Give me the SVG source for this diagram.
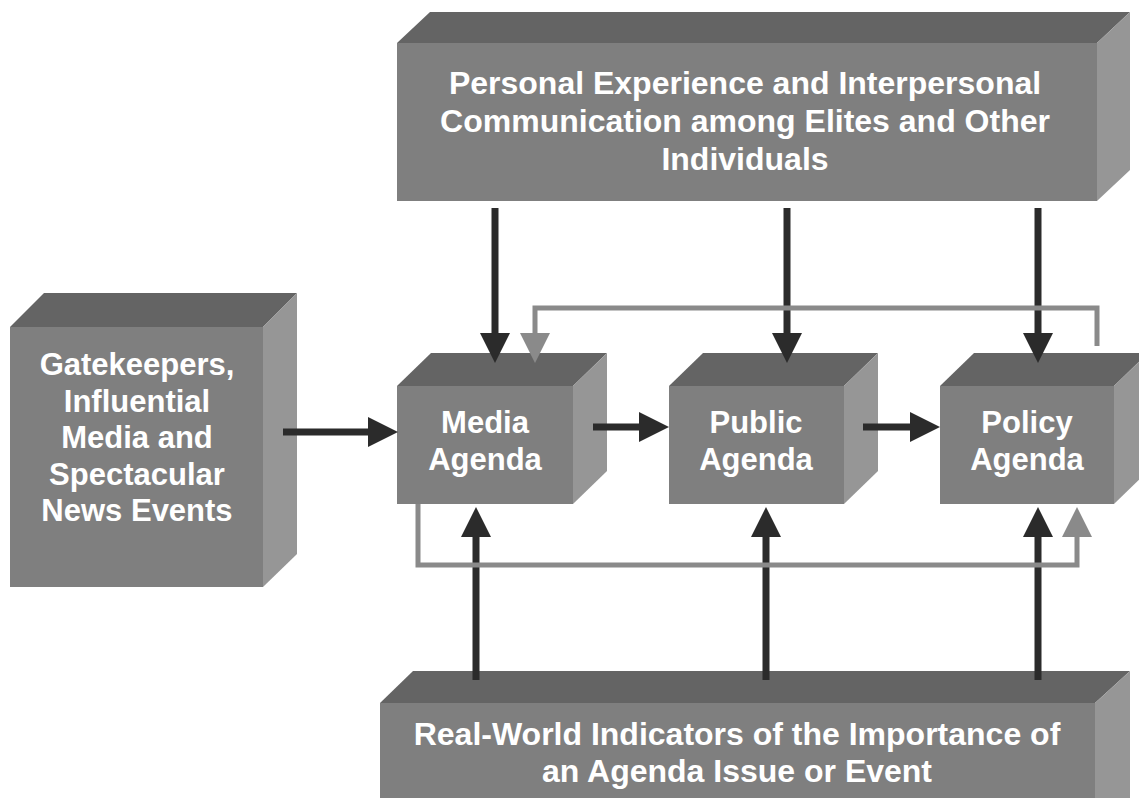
<svg xmlns="http://www.w3.org/2000/svg" width="1139" height="798" viewBox="0 0 1139 798">
<defs>
<style>
.front{fill:#7f7f7f}
.top{fill:#646464}
.side{fill:#969696}
.t{font-family:"Liberation Sans",Arial,Helvetica,sans-serif;font-weight:bold;fill:#ffffff;text-anchor:middle}
.dk{stroke:#2b2b2b;stroke-width:7;fill:none}
.gr{stroke:#8a8a8a;stroke-width:5;fill:none}
</style>
<marker id="hd" markerUnits="userSpaceOnUse" markerWidth="30" markerHeight="30" viewBox="0 0 30 30" refX="0" refY="15" orient="auto"><path d="M0,0 L30,15 L0,30 Z" fill="#2b2b2b"/></marker>
<marker id="hg" markerUnits="userSpaceOnUse" markerWidth="30" markerHeight="30" viewBox="0 0 30 30" refX="0" refY="15" orient="auto"><path d="M0,0 L30,15 L0,30 Z" fill="#8a8a8a"/></marker>
</defs>
<rect width="1139" height="798" fill="#ffffff"/>

<g id="personal">
<polygon class="top" points="397,43 430,12 1130,12 1097,43"/>
<polygon class="side" points="1097,43 1130,12 1130,170 1097,201"/>
<rect class="front" x="397" y="43" width="700" height="158"/>
<text class="t" font-size="32" x="745" y="94">Personal Experience and Interpersonal</text>
<text class="t" font-size="32" x="745" y="132">Communication among Elites and Other</text>
<text class="t" font-size="32" x="745" y="170">Individuals</text>
</g>

<g id="gatekeepers">
<polygon class="top" points="10,327 44,293 297,293 263,327"/>
<polygon class="side" points="263,327 297,293 297,554 263,587"/>
<rect class="front" x="10" y="327" width="253" height="260"/>
<text class="t" font-size="31" x="137" y="375">Gatekeepers,</text>
<text class="t" font-size="31" x="137" y="412">Influential</text>
<text class="t" font-size="31" x="137" y="448">Media and</text>
<text class="t" font-size="31" x="137" y="485">Spectacular</text>
<text class="t" font-size="31" x="137" y="521">News Events</text>
</g>

<g id="media">
<polygon class="top" points="397,386 431,353 607,353 573,386"/>
<polygon class="side" points="573,386 607,353 607,471 573,504"/>
<rect class="front" x="397" y="386" width="176" height="118"/>
<text class="t" font-size="31" x="485" y="433">Media</text>
<text class="t" font-size="31" x="485" y="470">Agenda</text>
</g>

<g id="public">
<polygon class="top" points="669,386 703,353 878,353 844,386"/>
<polygon class="side" points="844,386 878,353 878,471 844,504"/>
<rect class="front" x="669" y="386" width="175" height="118"/>
<text class="t" font-size="31" x="756" y="433">Public</text>
<text class="t" font-size="31" x="756" y="470">Agenda</text>
</g>

<g id="policy">
<polygon class="top" points="940,386 974,353 1148,353 1114,386"/>
<polygon class="side" points="1114,386 1148,353 1148,471 1114,504"/>
<rect class="front" x="940" y="386" width="174" height="118"/>
<text class="t" font-size="31" x="1027" y="433">Policy</text>
<text class="t" font-size="31" x="1027" y="470">Agenda</text>
</g>

<g id="realworld">
<polygon class="top" points="380,703 413,671 1130,671 1095,703"/>
<polygon class="side" points="1095,703 1130,671 1130,800 1095,800"/>
<rect class="front" x="380" y="703" width="715" height="97"/>
<text class="t" font-size="32" x="737" y="745">Real-World Indicators of the Importance of</text>
<text class="t" font-size="32" x="737" y="782">an Agenda Issue or Event</text>
</g>

<g id="connectors">
<line class="dk" x1="495" y1="208" x2="495" y2="333" marker-end="url(#hd)"/>
<line class="dk" x1="787" y1="208" x2="787" y2="333" marker-end="url(#hd)"/>
<line class="dk" x1="1038" y1="208" x2="1038" y2="333" marker-end="url(#hd)"/>
<line class="dk" x1="283" y1="432" x2="368" y2="432" marker-end="url(#hd)"/>
<line class="dk" x1="593" y1="427" x2="639" y2="427" marker-end="url(#hd)"/>
<line class="dk" x1="863" y1="427" x2="910" y2="427" marker-end="url(#hd)"/>
<line class="dk" x1="476" y1="680" x2="476" y2="537" marker-end="url(#hd)"/>
<line class="dk" x1="766" y1="680" x2="766" y2="537" marker-end="url(#hd)"/>
<line class="dk" x1="1038" y1="680" x2="1038" y2="537" marker-end="url(#hd)"/>
<polyline class="gr" points="1097,346 1097,308 535,308 535,333" marker-end="url(#hg)"/>
<polyline class="gr" points="418,504 418,565 1077,565 1077,537" marker-end="url(#hg)"/>
</g>
</svg>
